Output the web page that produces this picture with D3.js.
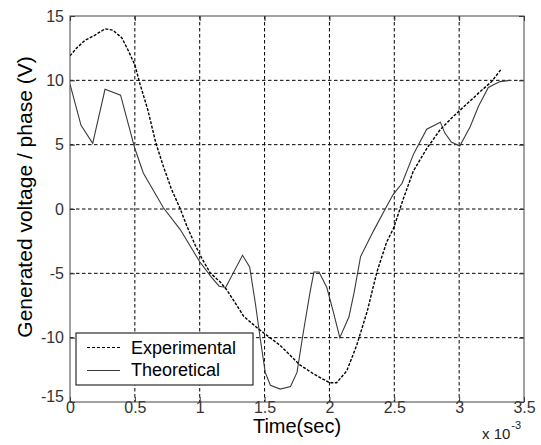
<!DOCTYPE html>
<html>
<head>
<meta charset="utf-8">
<script src="https://cdn.jsdelivr.net/npm/d3@7"></script>
<style>
  body { margin: 0; background: #fff; }
  svg { display: block; font-family: Arial, "Liberation Sans", sans-serif; }
</style>
</head>
<body>
<svg id="chart" width="541" height="445"></svg>
<script>
// Time in units of 1e-3 s, voltage in V
const expT = [0.00,0.05,0.115,0.19,0.27,0.33,0.40,0.45,0.50,0.54,0.60,0.66,0.72,0.78,0.85,0.90,0.965,1.02,1.08,1.16,1.21,1.34,1.45,1.62,1.77,1.875,2.00,2.055,2.133,2.21,2.29,2.366,2.44,2.494,2.57,2.647,2.75,2.853,2.955,3.058,3.16,3.25,3.327];
const expV = [11.9,12.5,13.1,13.5,14.0,13.9,13.3,12.3,11.2,9.7,7.7,5.2,3.3,1.6,0.0,-1.3,-2.8,-3.9,-4.95,-5.7,-6.3,-8.35,-9.3,-10.6,-12.1,-12.8,-13.5,-13.5,-12.6,-10.6,-8.0,-4.9,-2.6,-1.5,0.8,2.95,4.7,6.15,7.2,8.15,9.1,9.9,10.9];

const thT = [0.00,0.085,0.175,0.27,0.39,0.50,0.565,0.72,0.85,1.00,1.09,1.15,1.20,1.33,1.385,1.43,1.467,1.505,1.545,1.62,1.70,1.75,1.80,1.85,1.88,1.92,1.98,2.03,2.08,2.15,2.19,2.24,2.34,2.43,2.49,2.56,2.65,2.75,2.855,2.89,2.94,3.005,3.085,3.15,3.225,3.315,3.39];
const thV = [9.7,6.5,5.1,9.3,8.85,4.7,2.8,0.1,-1.6,-4.1,-5.3,-6.0,-6.1,-3.6,-4.5,-7.4,-10.1,-12.7,-13.7,-14.0,-13.8,-12.7,-9.5,-6.5,-4.9,-4.9,-6.1,-8.0,-10.0,-8.4,-6.5,-3.7,-1.7,0.0,1.1,2.0,4.3,6.2,6.75,5.9,5.2,4.9,6.4,8.0,9.45,9.9,10.0];

const xTicks = [0,0.5,1,1.5,2,2.5,3,3.5];
const xTickLabels = ["0","0.5","1","1.5","2","2.5","3","3.5"];
const yTicks = [-15,-10,-5,0,5,10,15];
const yTickLabels = ["-15","-10","-5","0","5","10","15"];
const seriesNames = ["Experimental","Theoretical"];

const L = 70, R = 524, T = 16, B = 402;
const svg = d3.select("#chart");
const x = d3.scaleLinear().domain([0,3.5]).range([L,R]);
const y = d3.scaleLinear().domain([-15,15]).range([B,T]);

// grid
const g = svg.append("g");
g.selectAll(".gx").data(xTicks.slice(1,-1)).enter().append("line")
  .attr("x1", d=>x(d)).attr("x2", d=>x(d)).attr("y1", T).attr("y2", B)
  .attr("stroke","#000").attr("stroke-width",1).attr("stroke-dasharray","3.5,2.5");
g.selectAll(".gy").data(yTicks.slice(1,-1)).enter().append("line")
  .attr("y1", d=>y(d)).attr("y2", d=>y(d)).attr("x1", L).attr("x2", R)
  .attr("stroke","#000").attr("stroke-width",1).attr("stroke-dasharray","3.5,2.5");

// axes with inward ticks
const axB = svg.append("g").attr("transform",`translate(0,${B})`)
  .call(d3.axisBottom(x).tickValues(xTicks).tickSize(-5).tickPadding(0).tickFormat((d,i)=>xTickLabels[i]));
const axL = svg.append("g").attr("transform",`translate(${L},0)`)
  .call(d3.axisLeft(y).tickValues(yTicks).tickSize(-5).tickPadding(6).tickFormat((d,i)=>yTickLabels[i]));
const axT = svg.append("g").attr("transform",`translate(0,${T})`)
  .call(d3.axisTop(x).tickValues(xTicks).tickSize(-5).tickFormat(""));
const axR = svg.append("g").attr("transform",`translate(${R},0)`)
  .call(d3.axisRight(y).tickValues(yTicks).tickSize(-5).tickFormat(""));
[axB,axL,axT,axR].forEach(a=>{
  a.select(".domain").remove();
  a.selectAll(".tick line").attr("stroke","#333");
  a.selectAll("text").attr("font-size",16).attr("fill","#333")
    .attr("font-family","Arial, 'Liberation Sans', sans-serif");
});
axL.selectAll(".tick").filter(d=>d===-15).select("text").attr("dy","-0.05em");
axB.selectAll(".tick text").attr("dy","0.68em");

// clip
svg.append("clipPath").attr("id","clip").append("rect")
  .attr("x",L).attr("y",T).attr("width",R-L).attr("height",B-T);

const line = d3.line().x(d=>x(d[0])).y(d=>y(d[1]));
const thData = thT.map((t,i)=>[t,thV[i]]);
const expData = expT.map((t,i)=>[t,expV[i]]);

svg.append("path").datum(thData).attr("d",line).attr("clip-path","url(#clip)")
  .attr("fill","none").attr("stroke","#3a3a3a").attr("stroke-width",1.1);
svg.append("path").datum(expData).attr("d",line).attr("clip-path","url(#clip)")
  .attr("fill","none").attr("stroke","#000").attr("stroke-width",1.4).attr("stroke-dasharray","3,1.5");

// frame
svg.append("rect").attr("x",L).attr("y",T).attr("width",R-L).attr("height",B-T)
  .attr("fill","none").attr("stroke","#444").attr("stroke-width",1);

// legend
const lg = svg.append("g");
lg.append("rect").attr("x",76).attr("y",333).attr("width",177).attr("height",52)
  .attr("fill","#fff").attr("stroke","#000").attr("stroke-width",1);
lg.append("line").attr("x1",87).attr("x2",120).attr("y1",347.5).attr("y2",347.5)
  .attr("stroke","#000").attr("stroke-width",1).attr("stroke-dasharray","3,2");
lg.append("line").attr("x1",87).attr("x2",120).attr("y1",370.5).attr("y2",370.5)
  .attr("stroke","#3a3a3a").attr("stroke-width",1.1);
lg.append("text").attr("x",131).attr("y",353.5).attr("font-size",18).attr("fill","#000").text(seriesNames[0]);
lg.append("text").attr("x",131).attr("y",376).attr("font-size",18).attr("fill","#000").text(seriesNames[1]);

// axis titles
svg.append("text").attr("x",(L+R)/2).attr("y",433).attr("text-anchor","middle")
  .attr("font-size",20).attr("fill","#000").text("Time(sec)");
svg.append("text").attr("transform","translate(32,197) rotate(-90)").attr("text-anchor","middle")
  .attr("font-size",21).attr("fill","#000").text("Generated voltage / phase (V)");
const ex = svg.append("text").attr("x",482).attr("y",439).attr("font-size",15).attr("fill","#222");
ex.append("tspan").text("x 10");
ex.append("tspan").attr("font-size",11).attr("dy",-10).attr("dx",1).text("-3");
</script>
</body>
</html>
